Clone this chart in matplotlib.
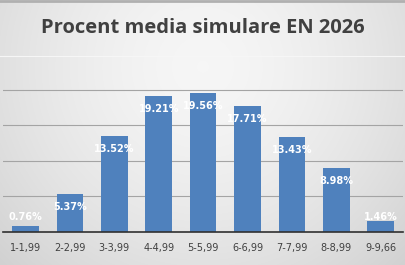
import numpy as np
import matplotlib
matplotlib.use("Agg")
import matplotlib.pyplot as plt

categories = ["1-1,99", "2-2,99", "3-3,99", "4-4,99", "5-5,99", "6-6,99", "7-7,99", "8-8,99", "9-9,66"]
values = [0.76, 5.37, 13.52, 19.21, 19.56, 17.71, 13.43, 8.98, 1.46]
labels = ["0.76%", "5.37%", "13.52%", "19.21%", "19.56%", "17.71%", "13.43%", "8.98%", "1.46%"]
title = "Procent media simulare EN 2026"

W, H = 405, 265
fig = plt.figure(figsize=(W / 100, H / 100), dpi=100)

# background gradient (vignette)
bg = fig.add_axes([0, 0, 1, 1])
yy, xx = np.mgrid[0:H, 0:W]
cx, cy = W * 0.5, H * 0.25
r = np.sqrt(((xx - cx) / (W * 0.62)) ** 2 + ((yy - cy) / (H * 0.95)) ** 2)
v = 0.965 - 0.12 * np.clip(r, 0, 1.3) ** 1.6
img = np.dstack([v, v, v])
bg.imshow(img, aspect="auto", extent=[0, W, H, 0], interpolation="bilinear")
bg.plot([0, W], [1, 1], color="#b0b0b0", lw=2)
bg.plot([0, W], [55.5, 55.5], color="#f6f6f6", lw=0.8)
bg.set_xlim(0, W)
bg.set_ylim(H, 0)
bg.axis("off")

fig.text(0.5, 1 - 28 / H, title, ha="center", va="center", fontsize=14.5,
         fontweight="bold", color="#404040", family="Open Sans")

# plot area: x from 3.3 to 403 px, baseline at 231.7 px, 7.08 px per %
left = 3.3 / W
right = 403 / W
bottom = 1 - 231.7 / H
ymax = 23.0
top_px = 231.7 - ymax * 7.08
ax = fig.add_axes([left, bottom, right - left, (231.7 - top_px) / H])
ax.set_facecolor("none")
x = np.arange(len(categories))
ax.bar(x, values, width=0.6, color="#4f81bd", zorder=3)
ax.set_xlim(-0.5, len(categories) - 0.5)
ax.set_ylim(0, ymax)
ax.set_yticks([5, 10, 15, 20])
ax.yaxis.grid(True, color="#a4a4a4", lw=0.8, zorder=0)
ax.tick_params(axis="y", left=False, labelleft=False)
ax.set_xticks(x)
ax.set_xticklabels(categories, fontsize=7, color="#404040", family="DejaVu Sans")
ax.tick_params(axis="x", length=0, pad=8)
for s in ["top", "right", "left"]:
    ax.spines[s].set_visible(False)
ax.spines["bottom"].set_color("#303030")
ax.spines["bottom"].set_linewidth(1.2)
ax.spines["bottom"].set_zorder(4)

for xi, val, lab in zip(x, values, labels):
    ypos = max(val - 1.85, 2.1)
    ax.text(xi, ypos, lab, ha="center", va="center", fontsize=7, fontweight="bold",
            color="white", zorder=5, family="DejaVu Sans")

fig.savefig("out.png", dpi=100)
